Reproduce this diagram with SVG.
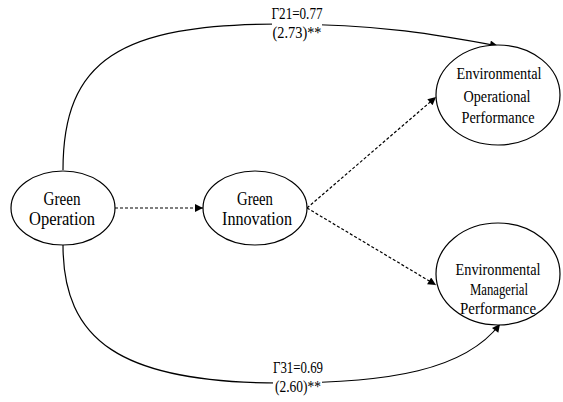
<svg xmlns="http://www.w3.org/2000/svg" width="563" height="402" viewBox="0 0 563 402">
  <style>
    .node { fill: #fff; stroke: #000; stroke-width: 1.2; }
    .mono { font-family: "Liberation Serif", "Times New Roman", serif; font-size: 18px; fill: #000; text-anchor: middle; }
    .serif { font-family: "Liberation Serif", "Times New Roman", serif; font-size: 16px; fill: #000; text-anchor: middle; }
    .solid { fill: none; stroke: #000; stroke-width: 1.2; }
    .dash { fill: none; stroke: #000; stroke-width: 1.2; stroke-dasharray: 3 2; }
  </style>
  <defs>
    <marker id="arrow" viewBox="0 0 10 10" refX="10" refY="5" markerWidth="10" markerHeight="8" markerUnits="userSpaceOnUse" orient="auto">
      <path d="M0,0 L10,5 L0,10 Z" fill="#000"/>
    </marker>
  </defs>
  <rect width="563" height="402" fill="#fff"/>

  <g id="connectors">
    <path class="solid" d="M63,170 C63,60 120,24 280,24 C380,24 440,35 498,46" marker-end="url(#arrow)"/>
    <path class="solid" d="M63,245 C63,340 120,383 280,383 C390,383 465,370 500,324" marker-end="url(#arrow)"/>
    <path class="dash" d="M115,208 L203,208" marker-end="url(#arrow)"/>
    <path class="dash" d="M307,208 L436,97" marker-end="url(#arrow)"/>
    <path class="dash" d="M307,208 L436,285" marker-end="url(#arrow)"/>
    <!-- path coefficients sit on white patches that break the curves -->
    <g id="label-top">
      <rect x="272" y="4" width="50" height="40" fill="#fff"/>
      <text class="serif" x="297" y="19" textLength="51" lengthAdjust="spacingAndGlyphs">Γ21=0.77</text>
      <text class="serif" x="297" y="38" textLength="49" lengthAdjust="spacingAndGlyphs">(2.73)**</text>
    </g>
    <g id="label-bottom">
      <rect x="273" y="359" width="49" height="40" fill="#fff"/>
      <text class="serif" x="298" y="373" textLength="50" lengthAdjust="spacingAndGlyphs">Γ31=0.69</text>
      <text class="serif" x="298" y="392" textLength="46" lengthAdjust="spacingAndGlyphs">(2.60)**</text>
    </g>
  </g>

  <g id="green-operation">
    <ellipse class="node" cx="63" cy="208" rx="52" ry="37"/>
    <text class="mono" x="62" y="205" textLength="37" lengthAdjust="spacingAndGlyphs">Green</text>
    <text class="mono" x="62" y="225" textLength="66" lengthAdjust="spacingAndGlyphs">Operation</text>
  </g>

  <g id="green-innovation">
    <ellipse class="node" cx="255" cy="208" rx="52" ry="37"/>
    <text class="mono" x="255" y="205" textLength="36" lengthAdjust="spacingAndGlyphs">Green</text>
    <text class="mono" x="257" y="225" textLength="70" lengthAdjust="spacingAndGlyphs">Innovation</text>
  </g>

  <g id="env-operational">
    <ellipse class="node" cx="498" cy="95" rx="62" ry="50"/>
    <text class="serif" x="499" y="79" textLength="85" lengthAdjust="spacingAndGlyphs">Environmental</text>
    <text class="serif" x="497" y="102" textLength="67" lengthAdjust="spacingAndGlyphs">Operational</text>
    <text class="serif" x="498" y="123" textLength="73" lengthAdjust="spacingAndGlyphs">Performance</text>
  </g>

  <g id="env-managerial">
    <ellipse class="node" cx="498" cy="274" rx="62" ry="51"/>
    <text class="serif" x="498" y="275" textLength="85" lengthAdjust="spacingAndGlyphs">Environmental</text>
    <text class="serif" x="499" y="295" textLength="58" lengthAdjust="spacingAndGlyphs">Managerial</text>
    <text class="serif" x="498" y="314" textLength="76" lengthAdjust="spacingAndGlyphs">Performance</text>
  </g>
</svg>
